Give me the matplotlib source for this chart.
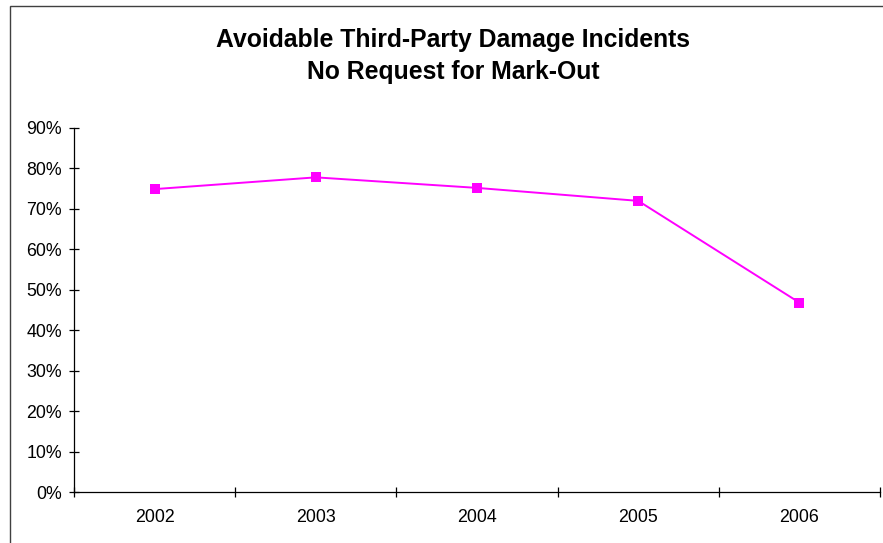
import matplotlib
matplotlib.use("Agg")
import matplotlib.pyplot as plt
import matplotlib.patches as patches
from matplotlib.ticker import PercentFormatter

plt.rcParams['font.family'] = ['Liberation Sans', 'DejaVu Sans']

years = ['2002', '2003', '2004', '2005', '2006']
pct_no_request = [74.8, 77.7, 75.1, 71.9, 46.8]

fig = plt.figure(figsize=(8.83, 5.43), dpi=100)
ax = fig.add_axes([74 / 883, 1 - 492.3 / 543, (880 - 74) / 883, (492.3 - 127.5) / 543])

# outer chart frame (right/bottom edges fall outside the picture)
fig.patches.append(patches.Rectangle((9.5 / 883, -0.5), 2.0, 1 - 5.5 / 543 + 0.5,
                                     transform=fig.transFigure, fill=False,
                                     edgecolor='#404040', linewidth=1.0))

x = range(len(years))
ax.plot(x, pct_no_request, color='#FF00FF', linewidth=1.4,
        marker='s', markersize=6.5, markeredgewidth=0)

ax.set_xlim(-0.5, len(years) - 0.5)
ax.set_ylim(0, 90)
ax.set_yticks(range(0, 91, 10))
ax.yaxis.set_major_formatter(PercentFormatter(decimals=0))

# Excel style: tick marks between categories, labels centred
ax.set_xticks([i - 0.5 for i in range(len(years) + 1)])
ax.set_xticklabels([])
ax.set_xticks(list(x), minor=True)
ax.set_xticklabels(years, minor=True)
ax.tick_params(axis='x', which='minor', length=0, pad=12, labelsize=12.8)
ax.tick_params(axis='x', which='major', direction='inout', length=7, width=0.9)
ax.tick_params(axis='y', direction='inout', length=7, width=0.9, labelsize=12.8, pad=5)

for side in ['top', 'right']:
    ax.spines[side].set_visible(False)
for side in ['left', 'bottom']:
    ax.spines[side].set_linewidth(0.9)

fig.text(453 / 883, 1 - 40 / 543, 'Avoidable Third-Party Damage Incidents',
         ha='center', va='center', fontsize=17.8, fontweight='bold')
fig.text(453 / 883, 1 - 72 / 543, 'No Request for Mark-Out',
         ha='center', va='center', fontsize=17.8, fontweight='bold')

fig.savefig('out.png', dpi=100)
